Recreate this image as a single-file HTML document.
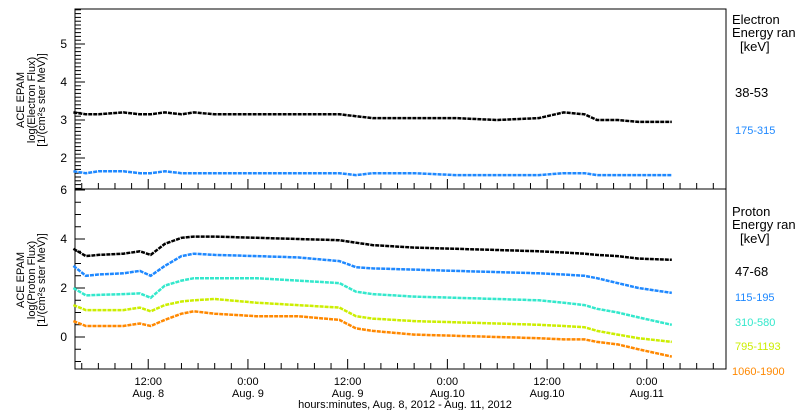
<!DOCTYPE html>
<html><head><meta charset="utf-8"><style>
body{margin:0;background:#fff;}
svg{display:block;font-family:"Liberation Sans",sans-serif;}
</style></head><body>
<svg id="chart" width="800" height="410" xmlns="http://www.w3.org/2000/svg">
<g id="axes"></g><g id="series"></g><g id="labels"></g>
</svg>
<script>
const hours=[3,4.5,6,9,11,12.3,14,16,17.5,20,25,30,35,37,39,44,49,54,59,62,64.5,66,68.5,71,75];
const elec38=[3.2,3.15,3.15,3.2,3.15,3.15,3.2,3.15,3.2,3.15,3.15,3.15,3.15,3.1,3.05,3.05,3.05,3.0,3.05,3.2,3.15,3.0,3.0,2.95,2.95];
const elec175=[1.65,1.6,1.65,1.65,1.6,1.6,1.65,1.6,1.6,1.6,1.6,1.6,1.6,1.55,1.6,1.6,1.55,1.55,1.55,1.6,1.6,1.55,1.55,1.55,1.55];
const p47=[3.6,3.3,3.35,3.4,3.5,3.35,3.8,4.05,4.1,4.1,4.05,4.0,3.95,3.85,3.75,3.65,3.6,3.55,3.5,3.45,3.4,3.35,3.3,3.2,3.15];
const p115=[2.9,2.5,2.55,2.6,2.7,2.5,2.9,3.3,3.4,3.35,3.3,3.25,3.1,2.85,2.8,2.75,2.7,2.65,2.6,2.55,2.5,2.4,2.2,2.0,1.8];
const p310=[2.0,1.7,1.72,1.75,1.78,1.6,2.1,2.3,2.4,2.4,2.4,2.3,2.2,1.85,1.75,1.65,1.6,1.55,1.5,1.4,1.3,1.15,1.0,0.8,0.5];
const p795=[1.3,1.1,1.1,1.1,1.2,1.05,1.3,1.45,1.5,1.55,1.4,1.3,1.2,0.85,0.75,0.65,0.6,0.55,0.5,0.45,0.4,0.25,0.1,-0.05,-0.2];
const p1060=[0.65,0.45,0.45,0.45,0.55,0.45,0.7,0.95,1.05,0.95,0.85,0.85,0.7,0.35,0.25,0.1,0.05,0.0,-0.05,-0.1,-0.1,-0.2,-0.3,-0.5,-0.8];
const xTickLabels=[["12:00","Aug. 8"],["0:00","Aug. 9"],["12:00","Aug. 9"],["0:00","Aug.10"],["12:00","Aug.10"],["0:00","Aug.11"]];
const xTickHours=[12,24,36,48,60,72];
const NS="http://www.w3.org/2000/svg";
const X0=75,X1=726,T0=9,T1=189,B1=369;
const xS=h=>48.5+h*8.31;
const yTop=v=>120-(v-3)*38;
const yBot=v=>337-v*24.5;
function el(tag,attrs,parent,text){const e=document.createElementNS(NS,tag);for(const k in attrs)e.setAttribute(k,attrs[k]);if(text!==undefined)e.textContent=text;parent.appendChild(e);return e;}
const axes=document.getElementById('axes'),ser=document.getElementById('series'),lab=document.getElementById('labels');
let f1=el('rect',{x:X0,y:T0,width:X1-X0,height:T1-T0,fill:'none',stroke:'#000','stroke-width':1},axes);

let f2=el('rect',{x:X0,y:T1,width:X1-X0,height:B1-T1,fill:'none',stroke:'#000','stroke-width':1},axes);

for(let i=0;i<=50;i++){const v=1.0+i*0.1;const y=yTop(v);if(y<T0||y>T1)continue;const major=Math.abs(v-Math.round(v))<1e-6;
el('line',{x1:X0,x2:X0+(major?10:6),y1:y,y2:y,stroke:'#000'},axes);
if(major){const t=el('text',{x:X0-8,y:y+4,'font-size':12,'text-anchor':'end'},lab,String(Math.round(v)));}}
for(let i=0;i<=16;i++){const v=-1.5+i*0.5;const y=yBot(v);if(y<T1-1||y>B1)continue;const major=Math.abs(v-Math.round(v/2)*2)<1e-6;
el('line',{x1:X0,x2:X0+(major?10:6),y1:y,y2:y,stroke:'#000'},axes);
if(major){const t=el('text',{x:X0-8,y:y+4,'font-size':12,'text-anchor':'end'},lab,String(v));}}
for(let h=4;h<=82;h+=2){const x=xS(h);if(x<X0||x>X1)continue;const major=h%12===0;
el('line',{x1:x,x2:x,y1:B1,y2:B1-(major?10:6),stroke:'#000'},axes);
el('line',{x1:x,x2:x,y1:T1,y2:T1-(major?10:6),stroke:'#000'},axes);}
xTickHours.forEach((h,i)=>{const x=xS(h);
const a=el('text',{x:x,y:385,'font-size':11,'text-anchor':'middle'},lab,xTickLabels[i][0]);
const b=el('text',{x:x,y:397,'font-size':11,'text-anchor':'middle'},lab,xTickLabels[i][1]);});
function draw(vals,ys,color,name){const pts=hours.map((h,i)=>xS(h).toFixed(1)+','+ys(vals[i]).toFixed(1)).join(' ');
const p=el('polyline',{points:pts,fill:'none',stroke:color,'stroke-width':2.5,'stroke-dasharray':'4 1'},ser);
}
draw(elec38,yTop,'#000','electron-38-53');
draw(elec175,yTop,'#1e88ff','electron-175-315');
draw(p47,yBot,'#000','proton-47-68');
draw(p115,yBot,'#1e88ff','proton-115-195');
draw(p310,yBot,'#33e8cc','proton-310-580');
draw(p795,yBot,'#ccee00','proton-795-1193');
draw(p1060,yBot,'#ff8800','proton-1060-1900');
function txt(x,y,s,fs,color,name,extra){const t=el('text',Object.assign({x:x,y:y,'font-size':fs,fill:color},extra||{}),lab,s);return t;}
txt(732,24,'Electron',13,'#000','electron-legend-title');
txt(732,37,'Energy ran',13,'#000','electron-energy-label');
txt(740,51,'[keV]',13,'#000','electron-kev-unit');
txt(735,97,'38-53',13,'#000','legend-38-53');
txt(735,134,'175-315',11,'#1e88ff','legend-175-315');
txt(732,216,'Proton',13,'#000','proton-legend-title');
txt(732,229,'Energy ran',13,'#000','proton-energy-label');
txt(740,243,'[keV]',13,'#000','proton-kev-unit');
txt(735,276,'47-68',13,'#000','legend-47-68');
txt(735,301,'115-195',11,'#1e88ff','legend-115-195');
txt(735,326,'310-580',11,'#33e8cc','legend-310-580');
txt(735,350,'795-1193',11,'#ccee00','legend-795-1193');
txt(732,375,'1060-1900',11,'#ff8800','legend-1060-1900');
txt(405,408,'hours:minutes, Aug.  8, 2012 - Aug. 11, 2012',11,'#000','x-axis-title',{'text-anchor':'middle'});
const yl=[[24,'ACE EPAM'],[35,'log(Electron Flux)'],[45,'[1/(cm\u00b2s ster MeV)]']];
yl.forEach(([x,s])=>txt(x,100,s,11,'#000','top-y-axis-title',{'text-anchor':'middle',transform:'rotate(-90 '+x+' 100)'}));
const yl2=[[24,'ACE EPAM'],[35,'log(Proton Flux)'],[45,'[1/(cm\u00b2s ster MeV)]']];
yl2.forEach(([x,s])=>txt(x,280,s,11,'#000','bottom-y-axis-title',{'text-anchor':'middle',transform:'rotate(-90 '+x+' 280)'}));
</script>
</body></html>
